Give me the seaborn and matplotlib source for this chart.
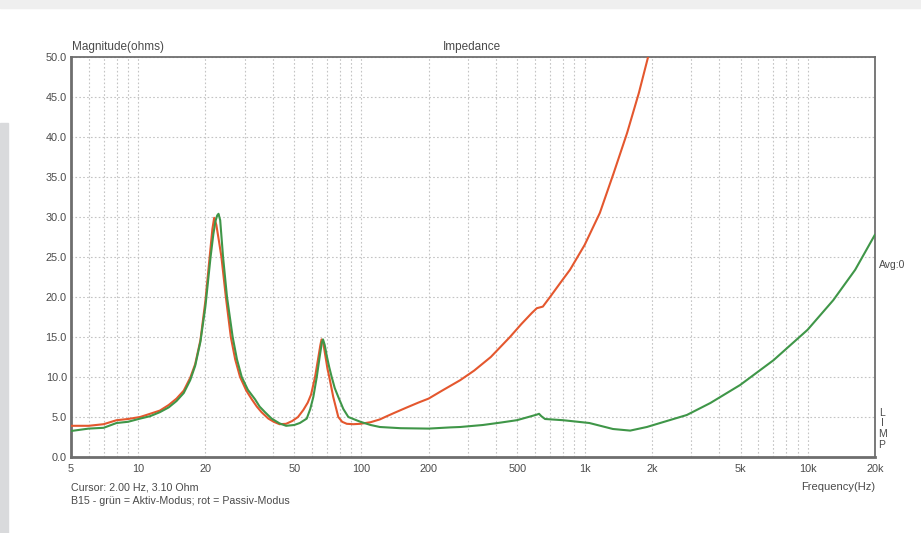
import numpy as np
import pandas as pd
import matplotlib
matplotlib.use("Agg")
import matplotlib.pyplot as plt
import seaborn as sns
from matplotlib.ticker import FixedLocator, NullFormatter, LogLocator
from matplotlib.patches import Rectangle

# ---- data ----
freq_passive = [5, 6, 7, 8, 9, 10.2, 11.3, 12.5, 13.7, 14.85, 16, 17.1, 18, 19, 20, 20.9, 21.5,
                21.9, 22.4, 23.0, 23.6, 24.7, 26.0, 27.2, 28.6, 30.5, 32.3, 34, 35.7, 38.3, 40.5,
                43, 46, 49, 52, 55, 57.5, 59.5, 62.0, 64, 65.5, 66.3, 67.5, 69, 70.5, 71.8, 74.8,
                78.8, 82, 86, 92, 99, 110, 121, 130, 140, 160, 180, 200, 230, 277, 320, 380, 463,
                520, 580, 611, 650, 700, 780, 860, 1000, 1170, 1350, 1550, 1750, 1925]
z_passive = [3.9, 3.9, 4.1, 4.6, 4.75, 5.0, 5.4, 5.8, 6.5, 7.3, 8.3, 9.9, 11.6, 14.6, 19.5, 25.0,
             28.5, 29.9, 29.0, 27.0, 25.0, 20.0, 15.0, 12.2, 10.0, 8.3, 7.2, 6.3, 5.6, 4.8, 4.4,
             4.1, 4.15, 4.5, 5.0, 5.9, 6.8, 7.8, 10.0, 12.3, 14.0, 14.7, 14.2, 12.6, 11.0, 10.0,
             7.5, 5.0, 4.4, 4.15, 4.1, 4.15, 4.35, 4.7, 5.1, 5.5, 6.2, 6.8, 7.3, 8.3, 9.6, 10.8,
             12.5, 15.0, 16.6, 18.0, 18.6, 18.8, 20.0, 21.8, 23.4, 26.5, 30.5, 35.5, 40.5, 45.5,
             50.0]

freq_active = [5, 6, 7, 8, 9, 10.2, 11.3, 12.5, 13.7, 14.85, 16, 17.1, 18, 19, 20, 21.1, 21.7,
               22.2, 22.6, 22.9, 23.3, 24.0, 25.0, 26.5, 27.7, 29.1, 31, 33.4, 35, 37, 39.6, 43,
               46, 50, 53, 56.9, 59, 60.9, 63.1, 65, 66.5, 67.3, 68.5, 70, 71.8, 73.6, 76, 78.8,
               83, 87.4, 93, 99, 110, 121, 150, 200, 250, 277, 350, 420, 497, 560, 611, 625, 640,
               665, 800, 1050, 1340, 1600, 1900, 2180, 2870, 3660, 4975, 7020, 9975, 13000,
               16300, 20000]
z_active = [3.25, 3.55, 3.65, 4.25, 4.4, 4.8, 5.1, 5.6, 6.2, 7.0, 8.0, 9.6, 11.4, 14.4, 18.8,
            25.0, 27.8, 29.5, 30.2, 30.4, 29.6, 25.0, 20.0, 15.0, 12.2, 10.0, 8.4, 7.2, 6.3, 5.6,
            4.8, 4.2, 3.9, 4.0, 4.25, 4.8, 6.0, 7.5, 10.0, 12.5, 14.3, 14.7, 14.0, 12.6, 11.2,
            10.0, 8.6, 7.5, 6.0, 5.0, 4.7, 4.4, 4.0, 3.75, 3.6, 3.55, 3.7, 3.75, 4.0, 4.3, 4.6,
            5.0, 5.3, 5.4, 5.1, 4.75, 4.6, 4.25, 3.5, 3.3, 3.75, 4.25, 5.25, 6.75, 9.0, 12.1,
            15.9, 19.6, 23.4, 27.8]

x_ticks = [5, 10, 20, 50, 100, 200, 500, 1000, 2000, 5000, 10000, 20000]
x_tick_labels = ["5", "10", "20", "50", "100", "200", "500", "1k", "2k", "5k", "10k", "20k"]
y_ticks = [0, 5, 10, 15, 20, 25, 30, 35, 40, 45, 50]
y_tick_labels = ["0.0", "5.0", "10.0", "15.0", "20.0", "25.0", "30.0", "35.0", "40.0", "45.0", "50.0"]

df = pd.concat([
    pd.DataFrame({"freq": freq_passive, "z": z_passive, "mode": "Passiv"}),
    pd.DataFrame({"freq": freq_active, "z": z_active, "mode": "Aktiv"}),
])

# ---- style ----
sns.set_style("white")
plt.rcParams["font.family"] = ["Liberation Sans", "DejaVu Sans"]
txt_col = "#4a4a4a"

W, H = 921, 533
fig = plt.figure(figsize=(W / 100, H / 100), dpi=100)
fig.patch.set_facecolor("white")
# light frame strips of the page
fig.add_artist(Rectangle((0, 1 - 8 / H), 1, 8 / H, transform=fig.transFigure,
                         color="#efefef", zorder=0))
fig.add_artist(Rectangle((0, 0), 8 / W, 1 - 123 / H, transform=fig.transFigure,
                         color="#d9dadc", zorder=0))

ax = fig.add_axes([71 / W, 1 - 457 / H, (875 - 71) / W, (457 - 57) / H])
ax.set_facecolor("white")

sns.lineplot(data=df, x="freq", y="z", hue="mode", hue_order=["Passiv", "Aktiv"],
             palette={"Passiv": "#e4572e", "Aktiv": "#3f9648"}, sort=False,
             estimator=None, linewidth=1.5, legend=False, ax=ax, zorder=3)

ax.set_xscale("log")
ax.set_xlim(5, 20000)
ax.set_ylim(0, 50)

ax.xaxis.set_major_locator(FixedLocator(x_ticks))
ax.set_xticklabels(x_tick_labels)
ax.xaxis.set_minor_locator(LogLocator(base=10, subs=np.arange(2, 10)))
ax.xaxis.set_minor_formatter(NullFormatter())
ax.set_yticks(y_ticks)
ax.set_yticklabels(y_tick_labels)

ax.grid(True, which="both", axis="x", color="#c4c4c4", linestyle=(0, (1.5, 2)), linewidth=0.8)
ax.grid(True, which="major", axis="y", color="#c4c4c4", linestyle=(0, (1.5, 2)), linewidth=0.8)

ax.tick_params(axis="both", which="both", length=0, labelsize=7.8, colors=txt_col)
ax.tick_params(axis="x", pad=5)
ax.tick_params(axis="y", pad=3)

for side, lw in [("left", 2.0), ("bottom", 2.0), ("top", 1.3), ("right", 1.3)]:
    ax.spines[side].set_color("#6e6e6e")
    ax.spines[side].set_linewidth(lw)
    ax.spines[side].set_visible(True)

ax.set_xlabel("")
ax.set_ylabel("")

# ---- texts ----
def ftext(x, y, s, size=7.8, **kw):
    fig.text(x / W, 1 - y / H, s, fontsize=size, color=txt_col, va="center", **kw)

ftext(72, 47, "Magnitude(ohms)", size=8.5, ha="left")
ftext(472, 47, "Impedance", size=8.5, ha="center")
ftext(71, 488, "Cursor: 2.00 Hz, 3.10 Ohm", size=7.7, ha="left")
ftext(71, 501, "B15 - grün = Aktiv-Modus; rot = Passiv-Modus", size=7.7, ha="left")
ftext(875, 487, "Frequency(Hz)", size=8, ha="right")
ftext(879, 265, "Avg:0", size=7.5, ha="left")
for i, ch in enumerate("LIMP"):
    ftext(882, 413 + i * 10.5, ch, size=7.5, ha="center")

fig.savefig("out.png", dpi=100, facecolor=fig.get_facecolor())
